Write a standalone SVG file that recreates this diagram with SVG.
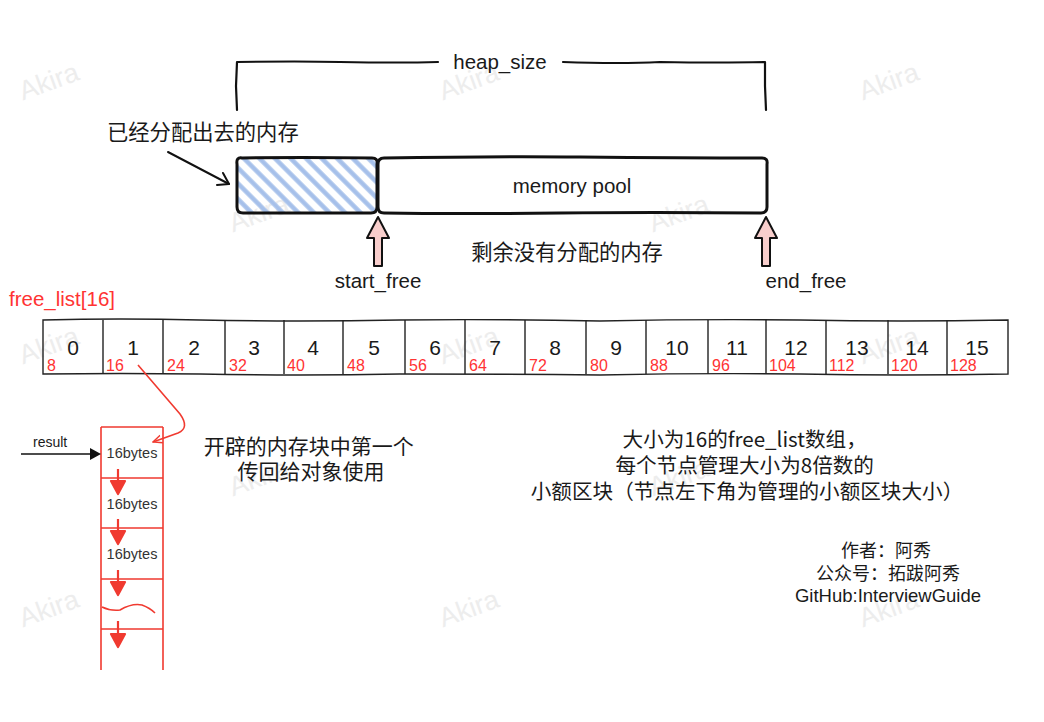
<svg xmlns="http://www.w3.org/2000/svg" width="1044" height="722" viewBox="0 0 1044 722">
  <defs>
    <style>
      .t { font-family: "Liberation Sans", "Noto Sans CJK SC", Arial, sans-serif; fill: #1a1a1a; }
      .zh { font-family: "Noto Sans CJK SC", "Liberation Sans", sans-serif; fill: #1a1a1a; }
      .red { fill: #ff3333; }
      .wm { font-family: "Liberation Sans", Arial, sans-serif; font-size: 27px; fill: #ededed; }
      .sk { fill: none; stroke: #111; stroke-linecap: round; stroke-linejoin: round; }
      .cell { fill: none; stroke: #222; stroke-width: 1.4; }
      .rl { fill: none; stroke: #f03a30; stroke-width: 1.6; }
    </style>
    <pattern id="hatch" width="11" height="11" patternUnits="userSpaceOnUse" patternTransform="rotate(-45)">
      <line x1="5.5" y1="0" x2="5.5" y2="11" stroke="#a6c0ea" stroke-width="4.5"/>
    </pattern>
    <clipPath id="hatchClip">
      <rect x="238" y="159" width="139" height="53" rx="4"/>
    </clipPath>
    <marker id="redHead" viewBox="0 0 10 10" refX="9" refY="5" markerWidth="10" markerHeight="10" markerUnits="userSpaceOnUse" orient="auto">
      <path d="M0,1 L9,5 L0,9" fill="none" stroke="#f03a30" stroke-width="1.4"/>
    </marker>
  </defs>

  <rect width="1044" height="722" fill="#ffffff"/>

  <!-- watermark tiles -->
  <g id="watermarks">
    <text class="wm" x="52" y="90" text-anchor="middle" transform="rotate(-20 52 90)">Akira</text>
    <text class="wm" x="472" y="90" text-anchor="middle" transform="rotate(-20 472 90)">Akira</text>
    <text class="wm" x="892" y="90" text-anchor="middle" transform="rotate(-20 892 90)">Akira</text>
    <text class="wm" x="262" y="222" text-anchor="middle" transform="rotate(-20 262 222)">Akira</text>
    <text class="wm" x="682" y="222" text-anchor="middle" transform="rotate(-20 682 222)">Akira</text>
    <text class="wm" x="52" y="354" text-anchor="middle" transform="rotate(-20 52 354)">Akira</text>
    <text class="wm" x="472" y="354" text-anchor="middle" transform="rotate(-20 472 354)">Akira</text>
    <text class="wm" x="892" y="354" text-anchor="middle" transform="rotate(-20 892 354)">Akira</text>
    <text class="wm" x="262" y="486" text-anchor="middle" transform="rotate(-20 262 486)">Akira</text>
    <text class="wm" x="682" y="486" text-anchor="middle" transform="rotate(-20 682 486)">Akira</text>
    <text class="wm" x="52" y="617" text-anchor="middle" transform="rotate(-20 52 617)">Akira</text>
    <text class="wm" x="472" y="617" text-anchor="middle" transform="rotate(-20 472 617)">Akira</text>
    <text class="wm" x="892" y="617" text-anchor="middle" transform="rotate(-20 892 617)">Akira</text>
  </g>

  <!-- heap_size bracket -->
  <g id="heap-size">
    <path class="sk" stroke-width="2.2" d="M237,110 L236,86 L237,62 Q300,61 340,62 Q400,63 438,62"/>
    <path class="sk" stroke-width="2.2" d="M563,62 Q620,64 660,62 Q720,63 765,62 L765,86 L766,110"/>
    <text class="t" x="500" y="69" font-size="20.5" text-anchor="middle">heap_size</text>
  </g>

  <!-- allocated part of the pool (hatched) -->
  <g id="allocated">
    <rect x="238" y="159" width="139" height="53" fill="url(#hatch)" clip-path="url(#hatchClip)"/>
    <path class="sk" stroke-width="3" d="M242,158 Q300,157 372,158 Q378,158 377,164 L377,207 Q377,213 371,213 L243,213 Q237,213 237,207 L237,164 Q236,157 242,158 Z"/>
    <text class="zh" x="107" y="140" font-size="21.3">已经分配出去的内存</text>
    <path class="sk" stroke-width="2" d="M168,152 L229,184"/>
    <path class="sk" stroke-width="2" d="M217,185 L229,184 L223,173"/>
  </g>

  <!-- free part of the pool -->
  <g id="memory-pool">
    <path class="sk" stroke-width="3" d="M384,158 Q500,156 580,157 Q680,158 762,158 Q768,158 767,164 L767,207 Q767,213 761,213 Q650,212 560,213 Q460,214 384,213 Q378,213 378,207 L378,164 Q378,158 384,158 Z"/>
    <text class="t" x="572" y="193" font-size="20.5" text-anchor="middle">memory pool</text>
    <text class="zh" x="567" y="260" font-size="21.3" text-anchor="middle">剩余没有分配的内存</text>
  </g>

  <!-- start_free / end_free pointers -->
  <g id="start-free">
    <path d="M378,217 L389,238 L382,238 L382,266 L374,266 L374,238 L367,238 Z" fill="#f8cecc" stroke="#111" stroke-width="2" stroke-linejoin="round"/>
    <text class="t" x="378" y="288" font-size="20.5" text-anchor="middle">start_free</text>
  </g>
  <g id="end-free">
    <path d="M766,217 L777,238 L770,238 L770,266 L762,266 L762,238 L755,238 Z" fill="#f8cecc" stroke="#111" stroke-width="2" stroke-linejoin="round"/>
    <text class="t" x="806" y="288" font-size="20.5" text-anchor="middle">end_free</text>
  </g>

  <!-- free_list array -->
  <g id="free-list">
    <text class="t red" x="9" y="306" font-size="20.5">free_list[16]</text>
    <path class="cell" d="M43,320 Q120,318 200,320 Q300,322 400,320 Q500,319 600,321 Q700,319 800,320 Q900,322 1008,320 L1008,374 Q900,376 800,374 Q700,373 600,375 Q500,374 400,374 Q300,376 200,374 Q120,373 43,374 Z"/>
    <path class="cell" d="M103,320 L103,374 M163,320 L163,374 M225,320 L225,374 M284,320 L284,374 M343,320 L343,374 M405,320 L405,374 M465,320 L465,374 M525,320 L525,374 M586,320 L586,374 M646,320 L646,374 M708,320 L708,374 M766,320 L766,374 M826,320 L826,374 M888,320 L888,374 M947,320 L947,374"/>
    <g class="t" font-size="21" text-anchor="middle">
      <text x="73" y="355">0</text>
      <text x="133" y="355">1</text>
      <text x="194" y="355">2</text>
      <text x="254" y="355">3</text>
      <text x="313" y="355">4</text>
      <text x="374" y="355">5</text>
      <text x="435" y="355">6</text>
      <text x="495" y="355">7</text>
      <text x="555" y="355">8</text>
      <text x="616" y="355">9</text>
      <text x="677" y="355">10</text>
      <text x="737" y="355">11</text>
      <text x="796" y="355">12</text>
      <text x="857" y="355">13</text>
      <text x="917" y="355">14</text>
      <text x="977" y="355">15</text>
    </g>
    <g class="t red" font-size="16">
      <text x="47" y="371">8</text>
      <text x="106" y="371">16</text>
      <text x="167" y="371">24</text>
      <text x="229" y="371">32</text>
      <text x="287" y="371">40</text>
      <text x="347" y="371">48</text>
      <text x="409" y="371">56</text>
      <text x="469" y="371">64</text>
      <text x="529" y="371">72</text>
      <text x="590" y="371">80</text>
      <text x="650" y="371">88</text>
      <text x="712" y="371">96</text>
      <text x="769" y="371">104</text>
      <text x="829" y="371">112</text>
      <text x="891" y="371">120</text>
      <text x="950" y="371">128</text>
    </g>
  </g>

  <!-- chunk chain for slot 1 -->
  <g id="chunks">
    <path class="rl" d="M101,427 L163,427 M101,427 L101,670 M163,427 L163,670 M101,478 L163,478 M101,528 L163,528 M101,579 L163,579 M101,629 L163,629"/>
    <path class="rl" d="M102,607 Q110,611 120,610 Q132,603 142,605 Q150,608 155,613"/>
    <g font-size="14.5" text-anchor="middle" class="t">
      <text x="132" y="458" fill="#333">16bytes</text>
      <text x="132" y="509" fill="#333">16bytes</text>
      <text x="132" y="559" fill="#333">16bytes</text>
    </g>
  </g>

  <!-- connectors -->
  <g id="connectors">
    <g fill="#f03a30" stroke="#f03a30" stroke-width="2.2" stroke-linejoin="round">
      <path d="M118,469 L118,482"/><path d="M111,481 L125,481 L118,494 Z"/>
      <path d="M118,519 L118,532"/><path d="M111,531 L125,531 L118,544 Z"/>
      <path d="M118,570 L118,583"/><path d="M111,582 L125,582 L118,595 Z"/>
      <path d="M118,621 L118,635"/><path d="M111,634 L125,634 L118,647 Z"/>
    </g>
    <path class="rl" d="M138,365 L180,414 Q190,428 178,433 L153,442" marker-end="url(#redHead)"/>
    <path d="M21,454 L96,454" stroke="#111" stroke-width="1.6" fill="none"/>
    <path d="M90,448 L101,454 L90,460 Z" fill="#111"/>
    <text class="t" x="33" y="447" font-size="14">result</text>
  </g>

  <!-- notes -->
  <g id="notes">
    <text class="zh" font-size="21" text-anchor="middle">
      <tspan x="311" y="454">开辟的内存块中第一个</tspan>
      <tspan x="311" y="479">传回给对象使用</tspan>
    </text>
    <text class="zh" font-size="20.6" text-anchor="middle">
      <tspan x="747" y="447">大小为16的free_list数组，</tspan>
      <tspan x="747" y="473">每个节点管理大小为8倍数的</tspan>
      <tspan x="747" y="499">小额区块（节点左下角为管理的小额区块大小）</tspan>
    </text>
    <text class="zh" font-size="18" text-anchor="middle">
      <tspan x="888" y="557">作者：阿秀</tspan>
      <tspan x="888" y="580">公众号：拓跋阿秀</tspan>
    </text>
    <text class="t" font-size="18.5" x="888" y="602" text-anchor="middle">GitHub:InterviewGuide</text>
  </g>
</svg>
